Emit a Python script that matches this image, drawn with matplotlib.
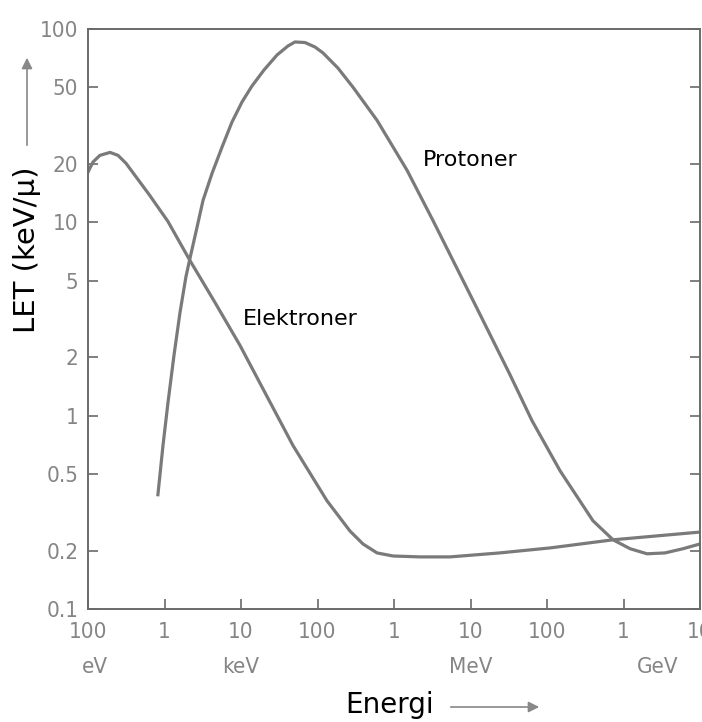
import matplotlib
matplotlib.use('Agg')
import matplotlib.pyplot as plt
import matplotlib.transforms as mtransforms
from matplotlib.patches import FancyArrowPatch

# Elektroner: energi (eV), LET (keV/µ)
el_energy = [1.0e2, 1.16e2, 1.43e2, 1.94e2, 2.47e2, 3.14e2, 6.4e2, 1.11e3, 2.15e3,
             4.57e3, 9.7e3, 2.06e4, 4.79e4, 1.33e5, 2.66e5, 3.93e5, 6.0e5, 9.7e5,
             2.19e6, 5.4e6, 2.4e7, 1.1e8, 7.3e8, 1.0e10]
el_let = [18.2, 20.5, 22.2, 23.0, 22.2, 20.2, 13.8, 10.1, 6.35,
          3.85, 2.31, 1.315, 0.70, 0.363, 0.253, 0.217, 0.195, 0.188,
          0.186, 0.186, 0.195, 0.207, 0.228, 0.25]

# Protoner
pr_energy = [8.2e2, 9.55e2, 1.11e3, 1.33e3, 1.595e3, 1.91e3, 2.15e3, 2.66e3, 3.19e3,
             4.18e3, 5.65e3, 7.62e3, 1.03e4, 1.39e4, 2.0e4, 2.96e4, 4.11e4, 5.08e4,
             6.87e4, 9.27e4, 1.18e5, 1.85e5, 2.91e5, 6.0e5, 1.48e6, 3.24e6, 1.22e7,
             3.28e7, 6.37e7, 1.48e8, 3.99e8, 7.3e8, 1.22e9, 2.03e9, 3.48e9, 6.0e9, 1.0e10]
pr_let = [0.39, 0.70, 1.167, 2.05, 3.42, 5.25, 6.5, 9.42, 13.0,
          17.9, 24.5, 33.0, 41.9, 50.7, 61.4, 73.4, 81.7, 85.7,
          85.1, 80.7, 75.2, 62.8, 50, 33.7, 18.6, 10.2, 3.58,
          1.63, 0.942, 0.519, 0.286, 0.228, 0.205, 0.193, 0.195, 0.205, 0.217]

x_ticks = [1e2, 1e3, 1e4, 1e5, 1e6, 1e7, 1e8, 1e9, 1e10]
x_labels = ['100', '1', '10', '100', '1', '10', '100', '1', '10']
unit_pos = [1.25e2, 1e4, 1e7, 2.8e9]
unit_labels = ['eV', 'keV', 'MeV', 'GeV']
y_ticks = [0.1, 0.2, 0.5, 1, 2, 5, 10, 20, 50, 100]
y_labels = ['0.1', '0.2', '0.5', '1', '2', '5', '10', '20', '50', '100']

line_col = '#7a7a7a'
tick_col = '#858585'

fig = plt.figure(figsize=(7.02, 7.22), dpi=100)
ax = fig.add_axes([88 / 702, 1 - 609 / 722, 612 / 702, 580 / 722])

ax.plot(el_energy, el_let, color=line_col, lw=2.3, solid_joinstyle='round')
ax.plot(pr_energy, pr_let, color=line_col, lw=2.3, solid_joinstyle='round')

ax.set_xscale('log')
ax.set_yscale('log')
ax.set_xlim(1e2, 1e10)
ax.set_ylim(0.1, 100)

tick_kw = dict(family='DejaVu Sans', fontstretch='condensed', fontsize=16, color=tick_col)
ax.set_xticks(x_ticks)
ax.set_xticklabels(x_labels, **tick_kw)
ax.set_yticks(y_ticks)
ax.set_yticklabels(y_labels, **tick_kw)
ax.minorticks_off()
ax.tick_params(axis='both', direction='in', length=7, width=1.2, color='#6a6a6a')
ax.tick_params(axis='x', pad=9)
ax.tick_params(axis='y', pad=7, right=True)
for s in ax.spines.values():
    s.set_color('#6a6a6a')
    s.set_linewidth(1.4)

# enhetsrad under tallene
trans = mtransforms.blended_transform_factory(ax.transData, ax.transAxes)
for xp, lab in zip(unit_pos, unit_labels):
    ax.text(xp, -0.100, lab, transform=trans, ha='center', va='center',
            clip_on=False, **tick_kw)

ax.text(2.4e6, 20.9, 'Protoner', fontsize=16, ha='left', va='center')
ax.text(1.07e4, 3.18, 'Elektroner', fontsize=16, ha='left', va='center')

fig.text(27 / 702, 1 - 250 / 722, 'LET (keV/μ)', rotation=90, fontsize=21,
         ha='center', va='center')
fig.text(390 / 702, 1 - 705 / 722, 'Energi', fontsize=20, ha='center', va='center')

fig.add_artist(FancyArrowPatch((27 / 702, 1 - 148 / 722), (27 / 702, 1 - 55 / 722),
                               transform=fig.transFigure, arrowstyle='-|>',
                               mutation_scale=16, color='#888888', lw=1.2))
fig.add_artist(FancyArrowPatch((448 / 702, 1 - 707 / 722), (542 / 702, 1 - 707 / 722),
                               transform=fig.transFigure, arrowstyle='-|>',
                               mutation_scale=16, color='#888888', lw=1.2))

fig.savefig('out.png', dpi=100, facecolor='white')
